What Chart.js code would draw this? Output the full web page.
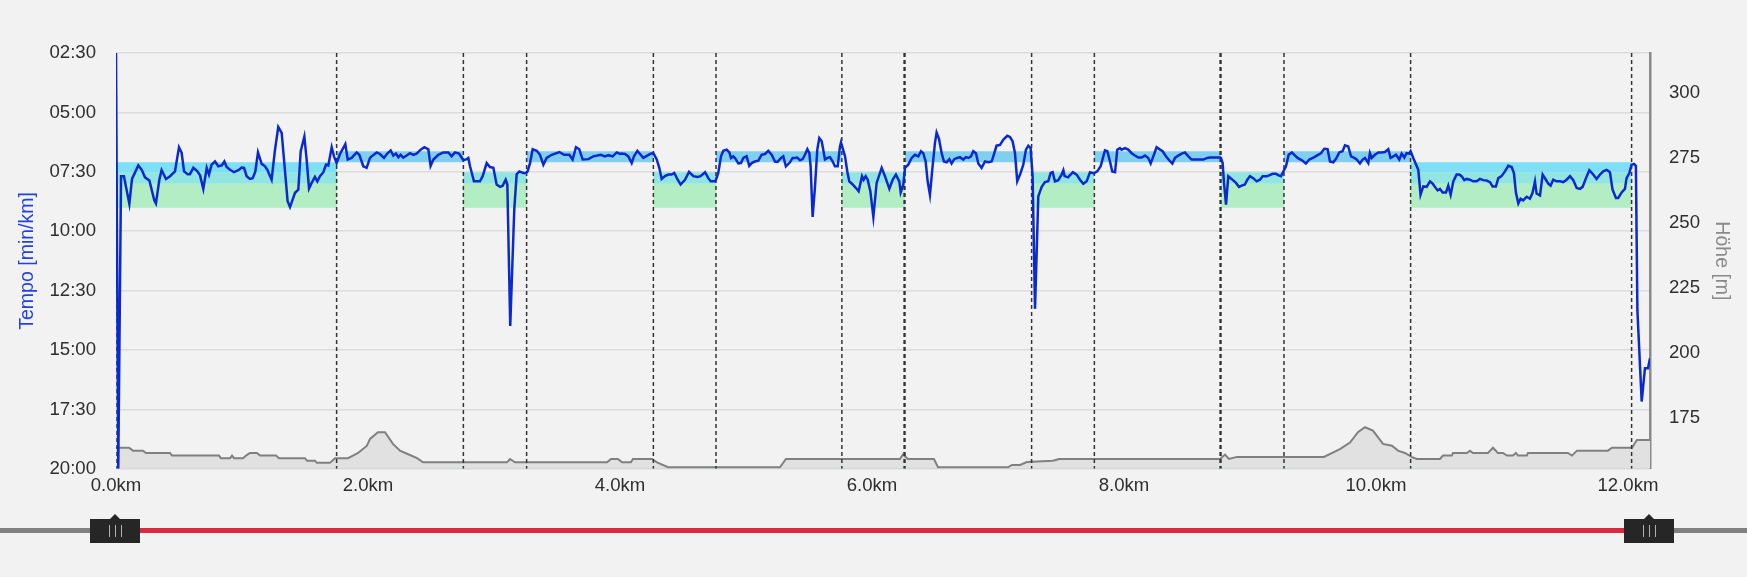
<!DOCTYPE html>
<html><head><meta charset="utf-8">
<script src="https://cdn.jsdelivr.net/npm/chart.js@4.4.1/dist/chart.umd.min.js"></script>
<style>
html,body{margin:0;padding:0;background:#f2f2f2;width:1747px;height:577px;overflow:hidden;font-family:"Liberation Sans",Arial,sans-serif}
#wrap{position:absolute;left:0;top:0;width:1747px;height:500px}
#c{display:block}
.track{position:absolute;top:528px;height:5px}
.handle{position:absolute;top:519px;width:50px;height:24px;background:#262626}
.handle:before{content:"";position:absolute;left:20px;top:-5px;border-left:5px solid transparent;border-right:5px solid transparent;border-bottom:5px solid #262626}
.grip{position:absolute;top:6px;width:1px;height:12px;background:#b0b0b0}
</style></head>
<body>
<div id="wrap"><canvas id="c" width="1747" height="500"></canvas></div>
<div class="track" id="trL" style="background:#808080"></div>
<div class="track" id="trM" style="background:#dc2840"></div>
<div class="track" id="trR" style="background:#808080"></div>
<div class="handle" id="hL"><div class="grip" style="left:19px"></div><div class="grip" style="left:25px"></div><div class="grip" style="left:31px"></div></div>
<div class="handle" id="hR"><div class="grip" style="left:19px"></div><div class="grip" style="left:25px"></div><div class="grip" style="left:31px"></div></div>
<script>
// ---- data ----
const paceKm = [0,0.018,0.040,0.063,0.106,0.127,0.177,0.204,0.230,0.265,0.304,0.317,0.344,0.362,0.397,0.429,0.468,0.500,0.521,0.540,0.569,0.587,0.614,0.646,0.667,0.693,0.720,0.738,0.759,0.786,0.812,0.839,0.860,0.878,0.905,0.937,0.971,0.997,1.016,1.037,1.063,1.085,1.106,1.127,1.156,1.183,1.201,1.235,1.262,1.288,1.315,1.362,1.381,1.421,1.447,1.466,1.495,1.513,1.532,1.553,1.579,1.598,1.619,1.646,1.667,1.685,1.712,1.730,1.751,1.778,1.820,1.839,1.870,1.910,1.931,1.963,1.989,2.016,
2.029,2.069,2.095,2.127,2.153,2.180,2.201,2.222,2.241,2.259,2.280,2.307,2.333,2.360,2.386,2.418,2.447,2.479,2.497,2.519,2.558,2.598,2.638,2.664,2.690,2.722,2.743,2.757,2.783,2.796,2.810,2.841,2.889,2.910,2.942,2.968,2.995,3.021,3.048,3.069,3.093,3.106,3.129,3.161,3.180,3.201,3.233,3.254,3.267,3.286,3.307,3.339,3.365,3.392,3.418,3.458,3.519,3.556,3.598,3.624,3.651,3.677,3.704,3.749,3.788,3.820,3.847,3.881,3.907,3.942,3.974,4.000,
4.013,4.040,4.066,4.093,4.111,4.138,4.164,4.185,4.217,4.243,4.265,4.291,4.312,4.331,4.357,4.384,4.410,4.431,4.458,4.481,4.516,4.548,4.582,4.614,4.640,4.675,4.701,4.720,4.754,4.762,4.780,4.802,4.820,4.847,4.868,4.881,4.899,4.913,4.939,4.960,4.979,5.005,5.026,5.045,5.071,5.098,5.124,5.151,5.177,5.204,5.230,5.251,5.278,5.296,5.317,5.349,5.370,5.389,5.407,5.429,5.450,5.468,5.487,5.503,5.513,5.529,5.548,5.566,5.582,5.601,5.627,5.646,5.667,5.688,5.706,5.728,5.746,5.754,5.765,5.786,5.804,5.820,5.847,5.873,5.894,5.921,5.934,5.950,5.966,5.987,
6.011,6.037,6.077,6.103,6.138,6.164,6.190,6.217,6.228,6.249,6.262,6.288,6.315,6.341,6.368,6.389,6.407,6.426,6.442,6.460,6.481,6.500,6.513,6.532,6.553,6.571,6.593,6.614,6.632,6.653,6.677,6.698,6.725,6.746,6.765,6.786,6.804,6.825,6.844,6.870,6.897,6.923,6.950,6.971,6.989,7.016,7.042,7.074,7.095,7.116,7.135,7.153,7.175,7.201,7.222,7.241,7.259,7.275,7.294,7.320,7.347,7.373,7.399,7.418,7.434,7.452,7.479,7.505,7.519,7.529,7.556,7.595,7.624,7.651,7.677,7.704,7.730,7.749,7.765,7.788,7.815,7.849,7.868,7.889,7.907,7.929,7.947,7.968,
7.981,8.008,8.034,8.061,8.087,8.114,8.140,8.167,8.193,8.212,8.233,8.259,8.286,8.307,8.333,8.360,8.384,8.405,8.431,8.458,8.484,8.511,8.537,8.577,8.630,8.661,8.683,8.735,8.762,8.770,8.783,8.794,8.810,8.828,8.854,8.889,8.913,8.934,8.960,8.979,9.000,9.026,9.053,9.079,9.101,9.132,9.153,9.180,9.206,9.228,9.246,9.259,9.286,9.307,9.333,9.352,9.378,9.413,9.444,9.471,9.511,9.537,9.563,9.590,9.616,9.635,9.661,9.683,9.709,9.735,9.754,9.780,9.802,9.828,9.847,9.873,9.894,9.913,9.939,9.952,
9.966,9.992,10.019,10.045,10.071,10.098,10.116,10.138,10.159,10.185,10.204,10.225,10.243,10.265,10.275,10.296,10.336,10.354,10.376,10.402,10.429,10.450,10.468,10.489,10.508,10.529,10.556,10.574,10.593,10.614,10.640,10.661,10.680,10.701,10.720,10.746,10.772,10.799,10.825,10.852,10.878,10.905,10.926,10.952,10.971,10.997,11.024,11.050,11.077,11.095,11.111,11.130,11.148,11.169,11.196,11.222,11.243,11.262,11.275,11.302,11.323,11.349,11.368,11.386,11.407,11.434,11.460,11.487,11.513,11.540,11.566,11.593,11.619,11.640,11.667,11.693,11.720,11.751,11.778,11.804,11.831,11.857,11.878,11.905,11.923,11.950,11.976,11.989,12.011,12.029,12.048,12.063,12.075,12.109,12.135,12.159,12.175];
const paceSec = [150,1200,461,461,531,468,434,445,464,472,522,530,470,446,468,461,449,388,402,449,456,456,440,449,459,493,440,457,432,424,436,434,424,438,445,451,446,439,440,461,468,466,449,401,430,436,445,470,394,337,352,524,539,503,495,398,361,419,492,478,463,474,461,451,432,434,388,411,428,405,380,419,415,401,407,436,440,415,
411,401,405,415,404,396,409,404,413,407,414,409,403,407,404,394,388,393,435,419,407,401,401,411,401,404,414,421,418,415,436,474,474,461,428,438,440,482,488,485,470,482,839,545,456,449,453,453,449,428,393,397,407,432,415,407,400,407,407,419,388,393,419,418,411,409,407,411,408,411,401,405,
404,405,411,428,411,397,407,415,409,404,403,418,440,468,461,457,457,453,470,482,470,450,461,463,461,451,466,474,474,470,453,411,397,394,401,415,411,415,429,428,415,411,435,428,424,422,407,405,397,407,424,425,415,411,436,426,415,415,414,421,418,407,393,403,436,564,487,394,365,373,419,415,413,424,436,436,386,376,388,411,449,474,482,491,499,461,470,461,470,499,
564,478,440,461,493,470,457,474,502,482,440,432,415,407,411,398,403,424,474,508,436,377,351,367,403,424,426,418,429,418,415,413,419,413,415,411,398,403,429,440,424,426,424,403,384,382,369,359,362,373,403,474,457,432,394,384,390,461,796,512,488,476,474,453,451,474,471,457,446,461,464,451,457,470,480,474,451,453,453,449,436,396,398,424,449,451,394,390,
394,390,394,403,409,414,414,409,415,429,411,388,394,398,411,421,429,415,409,404,401,411,419,419,419,415,414,414,414,415,428,478,533,461,468,478,488,485,482,470,461,466,474,470,461,461,459,455,455,459,461,453,436,407,401,407,415,421,429,419,413,408,403,392,393,424,426,417,401,398,383,386,411,415,419,429,419,415,428,403,
415,407,401,401,400,393,415,411,407,419,404,414,403,404,398,415,445,508,487,488,474,480,488,497,493,502,502,485,508,474,457,457,461,471,468,470,474,474,468,471,472,476,487,487,466,461,449,435,438,453,503,530,518,522,513,518,503,474,505,510,457,470,480,485,470,474,474,476,470,461,471,491,493,488,466,446,455,468,457,449,445,451,495,516,516,502,493,466,453,432,430,435,800,1030,946,946,921];

const elevKm = [0,0.103,0.135,0.214,0.238,0.429,0.444,0.817,0.833,0.905,0.921,0.937,1.008,1.032,1.063,1.119,1.143,1.270,1.294,1.500,1.516,1.579,1.595,1.698,1.738,1.841,1.881,1.921,1.992,2.016,2.079,2.135,2.198,2.254,2.310,2.389,2.437,3.103,3.127,3.167,3.897,3.929,3.984,4.016,4.087,4.103,4.254,4.294,4.381,5.270,5.317,6.222,6.246,6.286,6.492,6.524,7.079,7.111,7.175,7.230,7.437,7.484,8.762,8.802,8.833,8.897,9.587,9.714,9.794,9.857,9.913,9.976,10.056,10.127,10.175,10.230,10.286,10.325,10.508,10.532,10.603,10.611,10.722,10.746,10.770,10.889,10.929,10.968,11.008,11.040,11.087,11.111,11.127,11.198,11.206,11.524,11.556,11.595,11.841,11.873,12.032,12.071,12.175];
const elevM = [163.5,163.5,162.4,162.4,161.5,161.5,160.5,160.5,159.5,159.5,160.5,159.5,159.5,160.5,161.5,161.5,160.5,160.5,159.5,159.5,158.5,158.5,157.7,157.7,159.5,159.5,160.5,161.5,164.3,166.9,169.5,169.5,165,162.4,161.2,159.5,157.9,157.9,159.2,157.9,157.9,159.2,159.2,157.9,157.9,159.2,159.2,157.9,156,156,159.2,159.2,160.9,159.2,159.2,156,156,156.9,156.9,158,158.5,159.2,159.2,160.9,159.2,160,160,163,165.5,169.5,171.4,170.1,165,164.3,162.4,161.5,159.9,159.2,159.2,160.5,160.5,161.5,161.5,162.4,161.5,161.5,163.5,161.5,161.5,160.5,160.5,161.5,160.5,160.5,161.5,161.5,160.5,162.4,162.4,163.5,163.5,166.5,166.5];

const lapBoundsKm = [0,1.751,2.757,3.259,4.265,4.762,5.761,6.262,7.267,7.765,8.770,9.270,10.275,12.029];
const extraMarkKm = [6.255, 8.763];   // second marker lines next to two lap boundaries
const lapKind = ['warm','fast','rec','fast','rec','fast','rec','fast','rec','fast','rec','fast','cool'];
const zoneFastSec  = [398, 426];   // fast laps target
const zoneEasySec  = [426, 451];   // warm-up / cool-down upper part
const zoneMidSec   = [451, 480];   // overlap band
const zoneSlowSec  = [480, 541];   // green band
const paceTicks = [150,300,450,600,750,900,1050,1200];
const elevTicks = [175,200,225,250,275,300];
const xTicks = [0,2,4,6,8,10,12];
const xMax = 12.175, elevMin = 155.4, elevMax = 315.4;
const rangeKm = [0, 12.175];

// ---- build ----
function fmtPace(v){const m=Math.floor(v/60),s=Math.round(v%60);return String(m).padStart(2,'0')+':'+String(s).padStart(2,'0');}
function bandLayer(zone, kinds, color){
  const top=[], bot=[];
  lapKind.forEach((k,i)=>{
    const on = kinds.includes(k);
    top.push({x:lapBoundsKm[i], y: zone[0]});
    bot.push({x:lapBoundsKm[i], y: on ? zone[1] : zone[0]});
  });
  const n = lapKind.length;
  top.push({x:lapBoundsKm[n], y: top[n-1].y});
  bot.push({x:lapBoundsKm[n], y: bot[n-1].y});
  const common = {yAxisID:'y', stepped:true, pointRadius:0, borderWidth:0, borderColor:'rgba(0,0,0,0)', order:10};
  return [Object.assign({data:top, fill:false}, common), Object.assign({data:bot, fill:'-1', backgroundColor:color}, common)];
}
const lapLine = [];
lapBoundsKm.concat(extraMarkKm).forEach(b=>{lapLine.push({x:b,y:150},{x:b,y:1200},{x:b,y:null});});

const datasets = [
  {label:'Tempo', data: paceKm.map((x,i)=>({x, y:paceSec[i]})), yAxisID:'y', borderColor:'#0a2ad0', borderWidth:2.5, pointRadius:0, fill:false, order:1},
  {label:'Laps', data: lapLine, yAxisID:'y', borderColor:'#333', borderWidth:1.5, borderDash:[4,3], pointRadius:0, fill:false, spanGaps:false, order:2},
  {label:'Höhe', data: elevKm.map((x,i)=>({x, y:elevM[i]})), yAxisID:'y2', borderColor:'#808080', borderWidth:2, backgroundColor:'#e1e1e1', fill:'start', pointRadius:0, order:3},
  ...bandLayer(zoneFastSec, ['fast'], '#80cfee'),
  ...bandLayer(zoneEasySec, ['warm','cool'], '#7edff6'),
  ...bandLayer(zoneMidSec, ['warm','cool','rec'], '#93e6df'),
  ...bandLayer(zoneSlowSec, ['warm','cool','rec'], '#b2edc4')
];

Chart.defaults.font.family = '"Liberation Sans", Arial, sans-serif';
Chart.defaults.color = '#2e2e2e';

const chart = new Chart(document.getElementById('c'), {
  type:'line',
  data:{datasets},
  options:{
    responsive:false, animation:false, devicePixelRatio:1,
    layout:{padding:{top:53,left:0,right:0,bottom:0}},
    plugins:{legend:{display:false}, tooltip:{enabled:false}},
    scales:{
      x:{type:'linear', min:0, max:xMax,
        afterBuildTicks:s=>{s.ticks = xTicks.map(v=>({value:v}));},
        afterFit:s=>{s.height=30;},
        ticks:{padding:6, font:{size:18.6}, color:'#2e2e2e', maxRotation:0, autoSkip:false, callback:v=>Number(v).toFixed(1)+'km'},
        grid:{display:false, drawTicks:false},
        border:{display:true, color:'#c6d2e6', width:1}},
      y:{type:'linear', position:'left', reverse:true, min:150, max:1200,
        afterBuildTicks:s=>{s.ticks = paceTicks.map(v=>({value:v}));},
        afterFit:s=>{s.width=116;},
        ticks:{padding:20, font:{size:18.6}, color:'#2e2e2e', callback:v=>fmtPace(v)},
        grid:{color:'#dcdcdc', lineWidth:1.5, drawTicks:false},
        border:{display:false},
        title:{display:true, text:'Tempo [min/km]', color:'#2243dc', font:{size:19.5}, padding:{top:16,bottom:0}}},
      y2:{type:'linear', position:'right', min:elevMin, max:elevMax,
        afterBuildTicks:s=>{s.ticks = elevTicks.map(v=>({value:v}));},
        afterFit:s=>{s.width=97;},
        ticks:{padding:19, font:{size:18.6}, color:'#2e2e2e'},
        grid:{display:false, drawTicks:false},
        border:{display:true, color:'#8a8a8a', width:2.5},
        title:{display:true, text:'Höhe [m]', color:'#8a8a8a', font:{size:19.5}, padding:{top:14,bottom:0}}}
    }
  }
});

// range slider under the chart, positioned from the x scale
const xs = chart.scales.x;
const pL = Math.round(xs.getPixelForValue(rangeKm[0])), pR = Math.round(xs.getPixelForValue(rangeKm[1]));
const hL = document.getElementById('hL'), hR = document.getElementById('hR');
hL.style.left = (pL-26)+'px'; hR.style.left = (pR-26)+'px';
const trL = document.getElementById('trL'), trM = document.getElementById('trM'), trR = document.getElementById('trR');
trL.style.left='0px'; trL.style.width=(pL-26)+'px';
trM.style.left=(pL+24)+'px'; trM.style.width=(pR-26-(pL+24))+'px';
trR.style.left=(pR+24)+'px'; trR.style.width=(1747-(pR+24))+'px';
</script>
</body></html>
